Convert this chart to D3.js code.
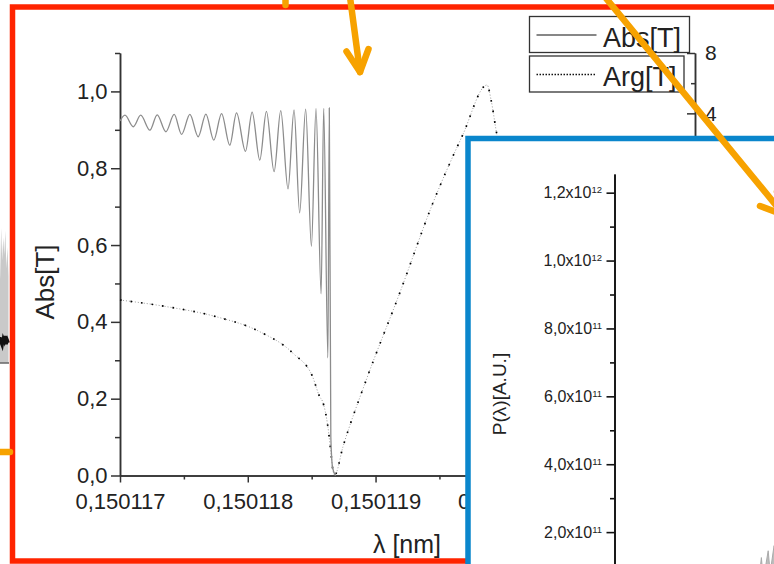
<!DOCTYPE html>
<html lang="en">
<head>
<meta charset="utf-8">
<title>Abs[T] and Arg[T] vs wavelength</title>
<script src="https://d3js.org/d3.v7.min.js"></script>
<style>
  body { margin: 0; background: #fff; }
  svg { display: block; font-family: "Liberation Sans", Arial, sans-serif; }
  .axis path, .axis line { stroke: #333; stroke-width: 1.5; }
  .axis text { fill: #222; }
  .inset .axis path, .inset .axis line { stroke: #111; stroke-width: 1.6; }
</style>
</head>
<body>
<div id="chart"></div>
<script>
// ---- data ----
// transmission modulus (extrema of the fringes, then the drop into the gap)
var absLambda = [0.150117000, 0.150117039, 0.150117104, 0.150117162, 0.150117234, 0.150117291,
  0.150117359, 0.150117424, 0.150117482, 0.150117547, 0.150117612, 0.150117672, 0.150117734,
  0.150117795, 0.150117859, 0.150117912, 0.150117982, 0.150118034, 0.150118094, 0.150118146,
  0.150118206, 0.150118258, 0.150118315, 0.150118362, 0.150118406, 0.150118453, 0.150118498,
  0.150118534, 0.150118574, 0.150118594, 0.150118627, 0.150118638, 0.150118650, 0.150118664,
  0.150118688];
var absValue = [0.923, 0.938, 0.908, 0.938, 0.899, 0.939, 0.895, 0.940, 0.888, 0.940, 0.882,
  0.941, 0.873, 0.942, 0.860, 0.944, 0.844, 0.946, 0.821, 0.948, 0.791, 0.950, 0.746, 0.952,
  0.684, 0.954, 0.597, 0.955, 0.473, 0.956, 0.306, 0.957, 0.10, 0.02, 0.0];

// transmission phase (right axis)
var argLambda = [0.150117000, 0.150117365, 0.150117755, 0.150118094, 0.150118354, 0.150118508,
  0.150118563, 0.150118586, 0.150118627, 0.150118654, 0.150118666, 0.150118680, 0.150118745,
  0.150118927, 0.150119188, 0.150119448, 0.150119682, 0.150119873, 0.150119904, 0.150119943,
  0.150120008];
var argValue = [-8.37, -8.81, -9.48, -10.47, -11.90, -13.47, -14.78, -15.11, -16.77, -18.75,
  -19.64, -19.97, -18.09, -13.67, -7.93, -1.96, 2.57, 5.88, 4.89, 2.90, -0.08];

var xTicks = [0.150117, 0.150118, 0.150119, 0.150120, 0.150121];
var xMinorTicks = [0.1501175, 0.1501185, 0.1501195, 0.1501205, 0.1501215];
var yTicks = [0, 0.2, 0.4, 0.6, 0.8, 1.0];
var yMinorTicks = [0.1, 0.3, 0.5, 0.7, 0.9, 1.1];
var argTicks = [-20, -16, -12, -8, -4, 0, 4, 8];
var argMinorTicks = [-18, -14, -10, -6, -2, 2, 6];
var legendNames = ["Abs[T]", "Arg[T]"];

// inset: power spectrum (only its very bottom corner shows)
var insetLambda = [0.150118415, 0.150118450, 0.150118470, 0.150118520, 0.150118540, 0.150118580, 0.150118620];
var insetPower = [0.3e11, 1.25e11, 0.6e11, 1.45e11, 0.8e11, 1.6e11, 1.1e11];
var insetTicks = [2e11, 4e11, 6e11, 8e11, 1e12, 1.2e12];
var insetMinorTicks = [1e11, 3e11, 5e11, 7e11, 9e11, 1.1e12];

// neighbouring slide panel peeking in at the left edge
var sideIndex = [0, 1, 2, 3, 4, 5, 6, 7, 8, 9, 10];
var sideGray = [0.72, 0.95, 0.62, 1.0, 0.76, 0.93, 0.8, 0.98, 0.7, 0.86, 0.64];
var sideBlack = [0.17, 0.14, 0.19, 0.15, 0.13, 0.18, 0.16, 0.2, 0.14, 0.17, 0.15];

// orange annotation arrows of the slide
var arrows = [
  [[350, -3], [360, 72]], [[346.5, 51.5], [360, 72], [368.5, 49]],
  [[285.5, -3], [285.5, 5]],
  [[-3, 452], [10, 452]],
  [[605, -3], [784, 215]], [[760, 206], [784, 215], [777, 192]]
];

var w = 774, h = 564;
var svg = d3.select("#chart").append("svg").attr("width", w).attr("height", h);

// ---- side panel remnant ----
var sx = d3.scaleLinear().domain([0, 10]).range([-2, 8.5]);
var sy = d3.scaleLinear().domain([0, 1]).range([363, 228]);
svg.append("path")
  .datum(sideIndex)
  .attr("d", d3.area().x(function (d) { return sx(d); }).y0(sy(0))
    .y1(function (d, i) { return sy(sideGray[i]); }))
  .attr("fill", "#c9c9c9");
svg.append("line").attr("x1", -2).attr("x2", 9).attr("y1", sy(0)).attr("y2", sy(0))
  .attr("stroke", "#666").attr("stroke-width", 1.5);
svg.append("path")
  .datum(sideIndex)
  .attr("d", d3.line().x(function (d) { return sx(d); }).y(function (d, i) { return sy(sideBlack[i]); }))
  .attr("fill", "none").attr("stroke", "#111").attr("stroke-width", 3);

// ---- red frame ----
svg.append("rect").attr("x", 12.5).attr("y", 7).attr("width", 820).attr("height", 554)
  .attr("fill", "none").attr("stroke", "#ff2400").attr("stroke-width", 5.5);

// ---- main chart ----
var x = d3.scaleLinear().domain([0.150117, 0.1501215]).range([120, 695]);
var y = d3.scaleLinear().domain([0, 1.1]).range([475.5, 53]);
var yArg = d3.scaleLinear().domain([-20, 8]).range([475.5, 53]);
var comma = function (f) { return function (d) { return d3.format(f)(d).replace(".", ","); }; };

var main = svg.append("g");

main.append("g").attr("class", "axis").attr("transform", "translate(0,475.5)")
  .call(d3.axisBottom(x).tickValues(xMinorTicks).tickSize(4).tickSizeOuter(0).tickFormat(""));
var xg = main.append("g").attr("class", "axis").attr("transform", "translate(0,475.5)")
  .call(d3.axisBottom(x).tickValues(xTicks).tickSize(7).tickSizeOuter(0).tickPadding(11).tickFormat(comma(".6f")));
xg.selectAll("text").attr("font-size", 22);

main.append("g").attr("class", "axis").attr("transform", "translate(120,0)")
  .call(d3.axisLeft(y).tickValues(yMinorTicks).tickSize(5).tickSizeOuter(0).tickFormat(""));
var yg = main.append("g").attr("class", "axis").attr("transform", "translate(120,0)")
  .call(d3.axisLeft(y).tickValues(yTicks).tickSize(9).tickSizeOuter(0).tickPadding(3.5).tickFormat(comma(".1f")));
yg.selectAll("text").attr("font-size", 22);

main.append("g").attr("class", "axis").attr("transform", "translate(695,0)")
  .call(d3.axisRight(yArg).tickValues(argMinorTicks).tickSize(-4).tickSizeOuter(0).tickFormat(""));
var rg = main.append("g").attr("class", "axis").attr("transform", "translate(695,0)")
  .call(d3.axisRight(yArg).tickValues(argTicks).tickSize(-8).tickSizeOuter(0).tickPadding(10));
rg.selectAll("text").attr("font-size", 21);

main.append("text").attr("transform", "translate(54,282) rotate(-90)")
  .attr("text-anchor", "middle").attr("font-size", 26).attr("fill", "#222").text("Abs[T]");
main.append("text").attr("x", 407).attr("y", 553)
  .attr("text-anchor", "middle").attr("font-size", 25).attr("fill", "#222").text("λ [nm]");

// Arg[T]: grey fine dots with black dots on top
var argLine = d3.line().curve(d3.curveMonotoneX)
  .x(function (d) { return x(d); })
  .y(function (d, i) { return yArg(argValue[i]); });
main.append("path").datum(argLambda).attr("d", argLine)
  .attr("fill", "none").attr("stroke", "#9a9a9a").attr("stroke-width", 1).attr("stroke-dasharray", "1,2");
main.append("path").datum(argLambda).attr("d", argLine)
  .attr("fill", "none").attr("stroke", "#000").attr("stroke-width", 1.7).attr("stroke-dasharray", "1.6,9");

// Abs[T]
main.append("path").datum(absLambda)
  .attr("d", d3.line().curve(d3.curveMonotoneX)
    .x(function (d) { return x(d); })
    .y(function (d, i) { return y(absValue[i]); }))
  .attr("fill", "none").attr("stroke", "#8c8c8c").attr("stroke-width", 1.3);

// legend boxes
var legend = main.selectAll("g.leg").data(legendNames).enter().append("g").attr("class", "leg")
  .attr("transform", function (d, i) { return "translate(529.5," + (16.5 + i * 39.5) + ")"; });
legend.append("rect").attr("width", function (d, i) { return i ? 154.5 : 160; }).attr("height", 36)
  .attr("fill", "#fff").attr("stroke", "#333").attr("stroke-width", 1.3);
legend.append("line").attr("x1", 7).attr("x2", 67).attr("y1", 18.5).attr("y2", 18.5)
  .attr("stroke", "#111").attr("stroke-width", function (d, i) { return i ? 1.4 : 1.2; })
  .attr("stroke-dasharray", function (d, i) { return i ? "1.5,1.5" : null; });
legend.append("text").attr("x", 73.5).attr("y", 30).attr("font-size", 27).attr("fill", "#222")
  .text(function (d) { return d; });

// ---- blue inset ----
var inset = svg.append("g").attr("class", "inset");
inset.append("rect").attr("x", 468).attr("y", 138.5).attr("width", 420).attr("height", 500)
  .attr("fill", "#fff").attr("stroke", "#0a86cc").attr("stroke-width", 5.5);

var ix = d3.scaleLinear().domain([0.150117, 0.150121]).range([620, 1010]);
var iy = d3.scaleLinear().domain([0, 1.255e12]).range([600, 174]);

inset.append("path").datum(insetLambda)
  .attr("d", d3.area().x(function (d) { return ix(d); }).y0(iy(0))
    .y1(function (d, i) { return iy(insetPower[i]); }))
  .attr("fill", "#bdbdbd").attr("stroke", "#aaa").attr("stroke-width", 1);

inset.append("g").attr("class", "axis").attr("transform", "translate(614.5,0)")
  .call(d3.axisLeft(iy).tickValues(insetMinorTicks).tickSize(4.5).tickSizeOuter(0).tickFormat(""));
var ig = inset.append("g").attr("class", "axis").attr("transform", "translate(614.5,0)")
  .call(d3.axisLeft(iy).tickValues(insetTicks).tickSize(8).tickSizeOuter(0).tickPadding(4.5));
ig.selectAll(".tick text").each(function (d) {
  var t = d3.select(this).text(null).attr("font-size", 16);
  var e = Math.floor(Math.log10(d) + 1e-9);
  t.append("tspan").text(d3.format(".1f")(d / Math.pow(10, e)).replace(".", ",") + "x10");
  t.append("tspan").attr("dy", "-0.55em").attr("font-size", 9.5).text(e);
});
inset.append("text").attr("transform", "translate(506,394) rotate(-90)")
  .attr("text-anchor", "middle").attr("font-size", 19).attr("fill", "#222").text("P(λ)[A.U.]");

// ---- orange arrows ----
svg.selectAll("path.arrow").data(arrows).enter().append("path").attr("class", "arrow")
  .attr("d", d3.line())
  .attr("fill", "none").attr("stroke", "#f7a200").attr("stroke-width", 6.5)
  .attr("stroke-linecap", "round").attr("stroke-linejoin", "round");
</script>
</body>
</html>
